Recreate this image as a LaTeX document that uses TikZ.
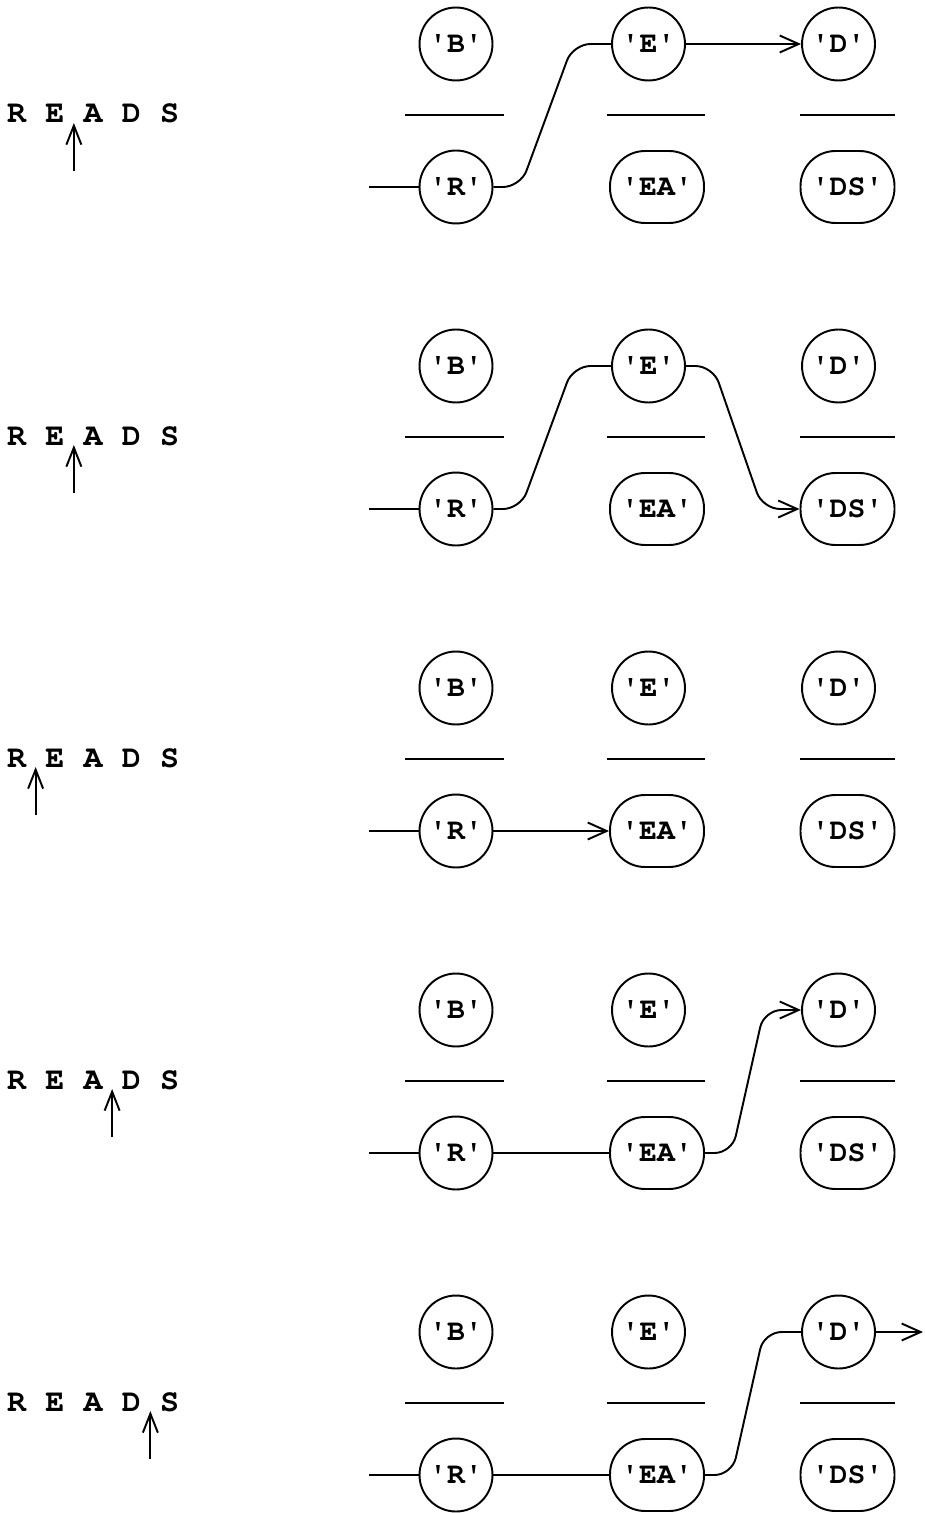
\documentclass[tikz,border=0pt]{standalone}
\usepackage{tikz}
\usetikzlibrary{arrows.meta, positioning, calc}
\newcommand\cellfont{\fontencoding{T1}\fontfamily{pcr}\fontseries{b}\fontsize{17}{20}\selectfont}
\newcommand\wordfont{\fontencoding{T1}\fontfamily{pcr}\fontseries{b}\fontsize{18}{20}\selectfont}
\newcommand\q{\textquotesingle}

\begin{document}
\begin{tikzpicture}[
  x=0.02cm, y=-0.02cm,
  line width=1.1pt,
  cell/.style = {draw, circle, minimum size=1.46cm, inner sep=0pt, font=\cellfont},
  widecell/.style = {draw, rectangle, rounded corners=0.7cm, minimum width=1.88cm,
                 minimum height=1.44cm, inner sep=0pt, font=\cellfont},
  letter/.style = {inner sep=0pt, anchor=base, font=\wordfont},
  link/.style = {rounded corners=0.35cm},
  arr/.style = {-{Straight Barb[length=3.8mm, width=3.4mm]}},
  ptr/.style = {-{Straight Barb[length=3.8mm, width=3mm]}}
]
  \useasboundingbox (0,0) rectangle (925,1513);

  % one panel per step: top row, separators, bottom row, input word
  \foreach \p/\y/\g/\h in {1/0/2/3, 2/322/2/3, 3/644/1/2, 4/966/3/4, 5/1288/4/5} {
    \node[cell] (B\p) at (456,\y+44) {\q B\q};
    \node[cell] (E\p) at (648.5,\y+44) {\q E\q};
    \node[cell] (D\p) at (838.5,\y+44) {\q D\q};

    \draw (405,\y+115) -- (504,\y+115);
    \draw (607,\y+115) -- (705,\y+115);
    \draw (800,\y+115) -- (895,\y+115);

    \node[cell] (R\p) at (456,\y+187) {\q R\q};
    \node[widecell] (EA\p) at (657,\y+187) {\q EA\q};
    \node[widecell] (DS\p) at (847.5,\y+187) {\q DS\q};

    \coordinate (in\p) at (369,\y+187);
    \draw (in\p) -- (R\p);

    % R E A D S with the pointer between two letters
    \foreach \c [count=\i] in {R,E,A,D,S}
      \node[letter] (L\p-\i) at (16.5+38.25*\i-38.25,\y+123) {\c};
    \coordinate (tip\p) at ($(L\p-\g.base)!0.5!(L\p-\h.base)$);
    \coordinate (tail\p) at ($(tip\p)+(0,48)$);
    \draw[ptr] (tail\p) -- (tip\p);
  }

  % step 1
  \draw[link] (R1.east) -- ++(27,0) -- ($(E1.west)+(-38,0)$) -- (E1.west);
  \draw[arr] (E1) -- (D1);

  % step 2
  \draw[link] (R2.east) -- ++(27,0) -- ($(E2.west)+(-38,0)$) -- (E2.west);
  \draw[link, arr] (E2.east) -- ++(27,0) -- ($(DS2.west)+(-37,0)$) -- (DS2.west);

  % step 3
  \draw[arr] (R3) -- (EA3);

  % step 4
  \draw (R4) -- (EA4);
  \draw[link, arr] (EA4.east) -- ++(27,0) -- ($(D4.west)+(-37,0)$) -- (D4.west);

  % step 5
  \draw (R5) -- (EA5);
  \draw[link] (EA5.east) -- ++(27,0) -- ($(D5.west)+(-37,0)$) -- (D5.west);
  \coordinate (out5) at (923,1332);
  \draw[arr] (D5) -- (out5);

\end{tikzpicture}
\end{document}
